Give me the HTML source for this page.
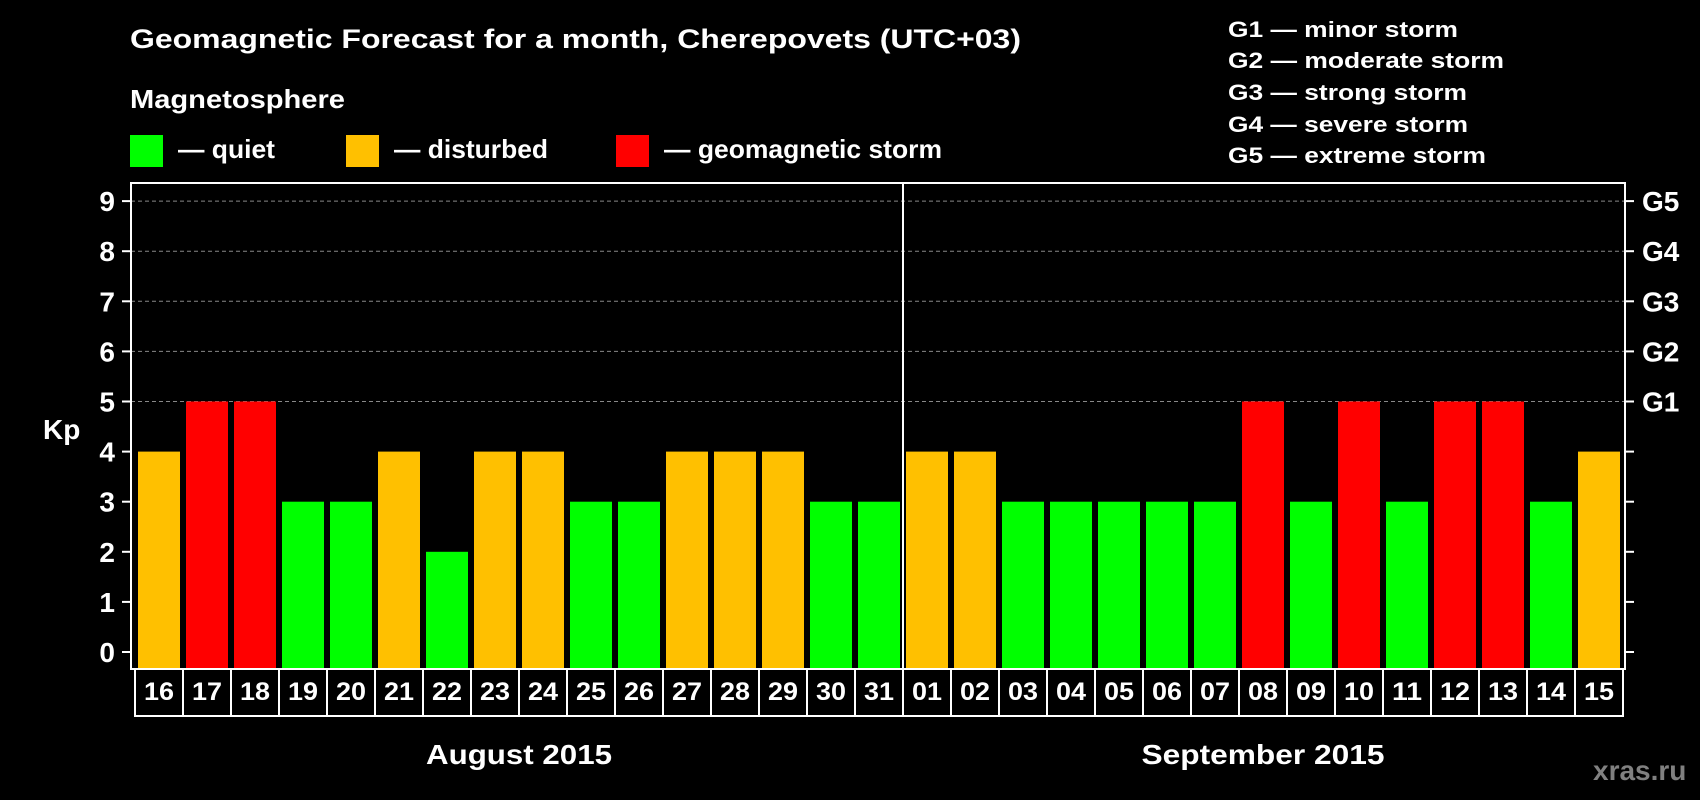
<!DOCTYPE html>
<html><head><meta charset="utf-8"><style>
html,body{margin:0;padding:0;background:#000;}
svg{display:block;font-family:"Liberation Sans",Arial,sans-serif;font-weight:bold;}
</style></head><body>
<svg id="chart" width="1700" height="800" viewBox="0 0 1700 800">
<rect width="1700" height="800" fill="#000"/>
<text x="130" y="48" fill="#fff" font-size="27" textLength="891" lengthAdjust="spacingAndGlyphs">Geomagnetic Forecast for a month, Cherepovets (UTC+03)</text>
<text x="130" y="108" fill="#fff" font-size="26" textLength="215" lengthAdjust="spacingAndGlyphs">Magnetosphere</text>
<g>
<rect x="130" y="135" width="33" height="32" fill="#00ff00"/>
<text x="178" y="158" fill="#fff" font-size="26" textLength="97" lengthAdjust="spacingAndGlyphs">— quiet</text></g>
<g>
<rect x="346" y="135" width="33" height="32" fill="#ffc000"/>
<text x="394" y="158" fill="#fff" font-size="26" textLength="154" lengthAdjust="spacingAndGlyphs">— disturbed</text></g>
<g>
<rect x="616" y="135" width="33" height="32" fill="#ff0000"/>
<text x="664" y="158" fill="#fff" font-size="26" textLength="278" lengthAdjust="spacingAndGlyphs">— geomagnetic storm</text></g>
<g fill="#fff" font-size="22">
<text x="1228" y="37" textLength="230" lengthAdjust="spacingAndGlyphs">G1 — minor storm</text>
<text x="1228" y="68" textLength="276" lengthAdjust="spacingAndGlyphs">G2 — moderate storm</text>
<text x="1228" y="100" textLength="239" lengthAdjust="spacingAndGlyphs">G3 — strong storm</text>
<text x="1228" y="132" textLength="240" lengthAdjust="spacingAndGlyphs">G4 — severe storm</text>
<text x="1228" y="163" textLength="258" lengthAdjust="spacingAndGlyphs">G5 — extreme storm</text>
</g>
<text x="43" y="439" fill="#fff" font-size="28">Kp</text>
<text x="1593" y="780" fill="#808080" font-size="28">xras.ru</text>
<g id="grid"></g>
<g id="bars"></g>
<g id="axes"></g>
</svg>
<script>
const days = ["16","17","18","19","20","21","22","23","24","25","26","27","28","29","30","31","01","02","03","04","05","06","07","08","09","10","11","12","13","14","15"];
const kp = [4,5,5,3,3,4,2,4,4,3,3,4,4,4,3,3,4,4,3,3,3,3,3,5,3,5,3,5,5,3,4];
const yTicks = [0,1,2,3,4,5,6,7,8,9];
const gLabels = ["","","","","","G1","G2","G3","G4","G5"];
const months = ["August 2015","September 2015"];

const NS = "http://www.w3.org/2000/svg";
const L = 131, R = 1625, T = 183, B = 669;
const y0 = 652, unit = 50.1;
const x0 = 135, pitch = 48;
function ys(v){ return y0 - v*unit; }
function xs(i){ return x0 + i*pitch; }
function mk(tag, attrs, parent){ const e=document.createElementNS(NS,tag); for(const k in attrs) e.setAttribute(k,attrs[k]); parent.appendChild(e); return e; }
function color(v){ return v>=5 ? "#ff0000" : (v>=4 ? "#ffc000" : "#00ff00"); }

const grid = document.getElementById("grid"), bars = document.getElementById("bars"), axes = document.getElementById("axes");

yTicks.forEach((v)=>{
  const y = ys(v);
  if (v>=5) {
    const g = mk("line",{x1:L,x2:R,y1:y,y2:y,stroke:"#888","stroke-width":1,"stroke-dasharray":"4,3"},grid);
    
    
  }
  const t1 = mk("line",{x1:L-9,x2:L,y1:y,y2:y,stroke:"#fff","stroke-width":2},axes);
  
  
  const t2 = mk("line",{x1:R,x2:R+9,y1:y,y2:y,stroke:"#fff","stroke-width":2},axes);
  
  
  const lab = mk("text",{x:115,y:y+10,fill:"#fff","font-size":28,"text-anchor":"end"},axes);
  lab.textContent = String(v);
  
  
  if (gLabels[v]) {
    const gl = mk("text",{x:1642,y:y+10,fill:"#fff","font-size":28},axes);
    gl.textContent = gLabels[v];
    
    
  }
});

kp.forEach((v,i)=>{
  const b = mk("rect",{x:xs(i)+3,y:ys(v),width:42,height:B-ys(v),fill:color(v)},bars);
  
  
});

const frame = mk("rect",{x:L,y:T,width:R-L,height:B-T,fill:"none",stroke:"#fff","stroke-width":2},axes);



const boxTop = 669, boxBot = 716;
days.forEach((d,i)=>{
  const r = mk("rect",{x:xs(i),y:boxTop,width:pitch,height:boxBot-boxTop,fill:"#000",stroke:"#fff","stroke-width":2},axes);
  
  
  const t = mk("text",{x:xs(i)+pitch/2,y:700,fill:"#fff","font-size":25,"text-anchor":"middle",textLength:30,lengthAdjust:"spacingAndGlyphs"},axes);
  t.textContent = d;
  
  
});

const split = days.indexOf("01");
const sx = xs(split);
const sep = mk("line",{x1:sx,x2:sx,y1:T,y2:boxBot,stroke:"#fff","stroke-width":2},axes);



const m1 = mk("text",{x:(xs(0)+sx)/2,y:764,fill:"#fff","font-size":28,"text-anchor":"middle",textLength:186,lengthAdjust:"spacingAndGlyphs"},axes);
m1.textContent = months[0];


const m2 = mk("text",{x:(sx+xs(days.length))/2,y:764,fill:"#fff","font-size":28,"text-anchor":"middle",textLength:243,lengthAdjust:"spacingAndGlyphs"},axes);
m2.textContent = months[1];


</script>
</body></html>
